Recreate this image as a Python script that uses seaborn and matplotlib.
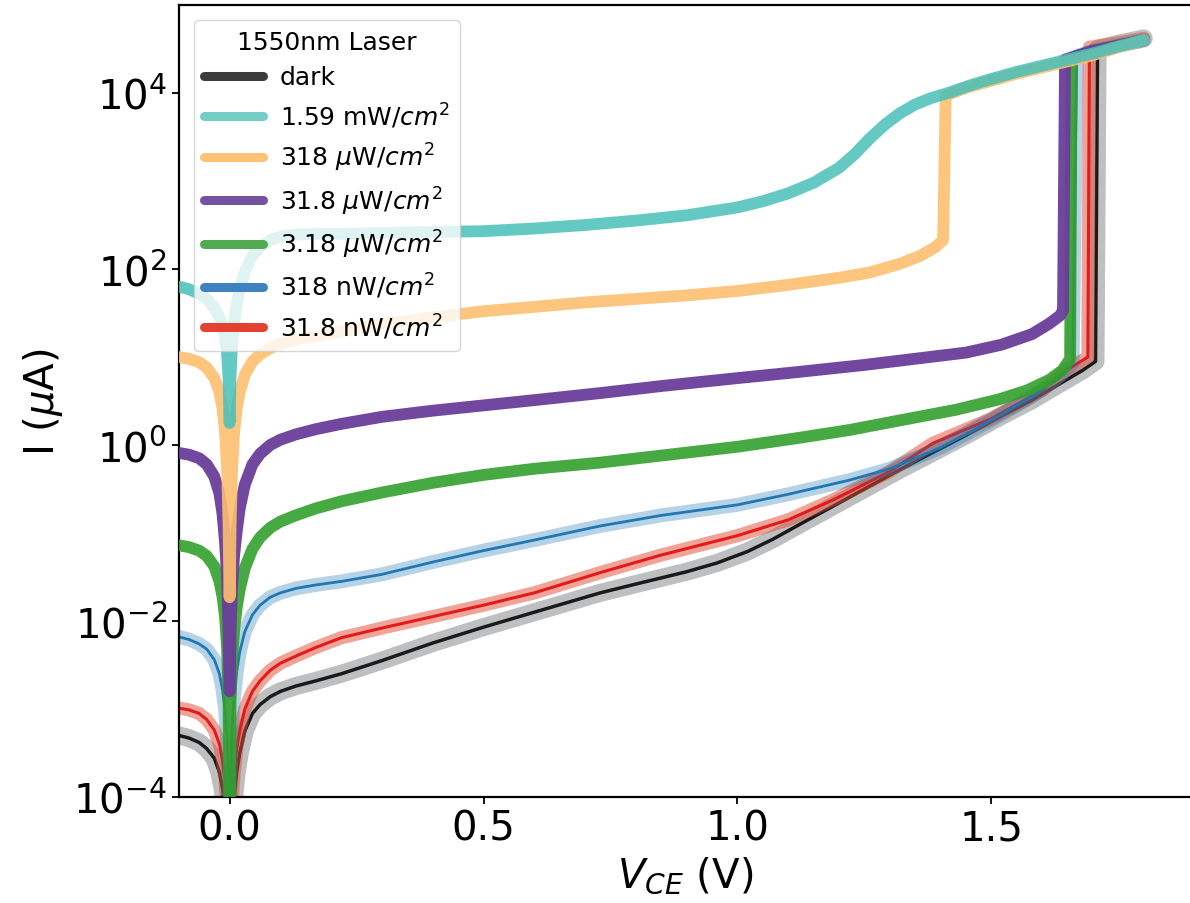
import numpy as np
import matplotlib
matplotlib.use("Agg")
import matplotlib.pyplot as plt
from matplotlib.lines import Line2D
from matplotlib.ticker import NullLocator, FixedLocator
import seaborn as sns

# ---------------- data (log10 of current in uA) ----------------
labels = ["dark", "1.59 mW/$cm^2$", "318 $\\mu$W/$cm^2$", "31.8 $\\mu$W/$cm^2$",
          "3.18 $\\mu$W/$cm^2$", "318 nW/$cm^2$", "31.8 nW/$cm^2$"]

V_dark = [-0.1, -0.08, -0.06, -0.045, -0.03, -0.02, -0.014, -0.009, -0.005, -0.002, 0.0, 0.002,
          0.005, 0.009, 0.014, 0.02, 0.03, 0.045, 0.06, 0.08, 0.1, 0.13, 0.17, 0.22, 0.3, 0.4, 0.5,
          0.6, 0.73, 0.8, 0.9, 0.96, 1.02, 1.07, 1.12, 1.19, 1.25, 1.32, 1.4, 1.45, 1.52, 1.58,
          1.63, 1.68, 1.705, 1.709, 1.75, 1.8]
logI_dark = [-3.3, -3.33, -3.38, -3.45, -3.56, -3.72, -3.9, -4.1, -4.4, -4.9, -5.5, -4.9,
             -4.35, -4.0, -3.72, -3.5, -3.25, -3.05, -2.95, -2.86, -2.8, -2.74, -2.68, -2.6, -2.45,
             -2.25, -2.07, -1.9, -1.68, -1.58, -1.44, -1.34, -1.21, -1.07, -0.91, -0.69, -0.5,
             -0.28, -0.04, 0.11, 0.33, 0.51, 0.68, 0.85, 0.95, 4.5, 4.56, 4.62]

V_cyan = [-0.1, -0.08, -0.06, -0.045, -0.03, -0.02, -0.014, -0.009, -0.005, -0.002, 0.0, 0.002,
          0.005, 0.009, 0.014, 0.02, 0.03, 0.045, 0.06, 0.08, 0.1, 0.13, 0.17, 0.22, 0.3, 0.4, 0.5,
          0.6, 0.7, 0.8, 0.9, 1.0, 1.05, 1.1, 1.15, 1.2, 1.23, 1.26, 1.29, 1.32, 1.35, 1.38, 1.42,
          1.46, 1.5, 1.55, 1.6, 1.65, 1.7, 1.75, 1.8]
logI_cyan = [1.8, 1.77, 1.72, 1.66, 1.56, 1.45, 1.35, 1.22, 1.05, 0.75, 0.25, 0.8,
             1.15, 1.4, 1.6, 1.77, 1.97, 2.15, 2.25, 2.33, 2.37, 2.39, 2.4, 2.4, 2.41, 2.42, 2.43,
             2.46, 2.5, 2.55, 2.61, 2.7, 2.77, 2.86, 2.98, 3.15, 3.3, 3.48, 3.64, 3.77, 3.87, 3.94,
             4.01, 4.09, 4.16, 4.24, 4.31, 4.38, 4.45, 4.53, 4.6]

V_orange = [-0.1, -0.08, -0.06, -0.045, -0.03, -0.02, -0.014, -0.009, -0.005, -0.002, 0.0, 0.002,
            0.005, 0.009, 0.014, 0.02, 0.03, 0.045, 0.06, 0.08, 0.1, 0.13, 0.17, 0.22, 0.3, 0.4,
            0.5, 0.6, 0.7, 0.8, 0.9, 1.0, 1.1, 1.2, 1.26, 1.32, 1.36, 1.39, 1.405, 1.41, 1.45, 1.5,
            1.55, 1.6, 1.65, 1.7, 1.75, 1.8]
logI_orange = [1.0, 0.98, 0.94, 0.88, 0.76, 0.6, 0.42, 0.15, -0.25, -0.9, -1.73, -0.9,
               -0.25, 0.15, 0.42, 0.6, 0.8, 0.95, 1.03, 1.1, 1.15, 1.2, 1.24, 1.29, 1.37, 1.45,
               1.52, 1.57, 1.62, 1.66, 1.7, 1.75, 1.82, 1.9, 1.96, 2.06, 2.15, 2.25, 2.33, 3.97,
               4.06, 4.14, 4.22, 4.29, 4.36, 4.43, 4.52, 4.6]

V_purple = [-0.1, -0.08, -0.06, -0.045, -0.03, -0.02, -0.014, -0.009, -0.005, -0.002, 0.0, 0.002,
            0.005, 0.009, 0.014, 0.02, 0.03, 0.045, 0.06, 0.08, 0.1, 0.13, 0.17, 0.22, 0.3, 0.4,
            0.5, 0.6, 0.73, 0.85, 1.0, 1.12, 1.25, 1.35, 1.45, 1.52, 1.58, 1.614, 1.635, 1.641,
            1.645, 1.7, 1.75, 1.8]
logI_purple = [-0.09, -0.11, -0.15, -0.22, -0.36, -0.55, -0.78, -1.1, -1.5, -2.1, -2.8, -2.1,
               -1.6, -1.25, -0.98, -0.72, -0.45, -0.22, -0.1, 0.0, 0.06, 0.12, 0.18, 0.24, 0.32,
               0.39, 0.45, 0.51, 0.59, 0.67, 0.76, 0.83, 0.91, 0.98, 1.05, 1.14, 1.26, 1.38, 1.47,
               1.53, 4.38, 4.48, 4.54, 4.6]

V_green = [-0.1, -0.08, -0.06, -0.045, -0.03, -0.02, -0.014, -0.009, -0.005, -0.002, 0.0, 0.002,
           0.005, 0.009, 0.014, 0.02, 0.03, 0.045, 0.06, 0.08, 0.1, 0.13, 0.17, 0.22, 0.3, 0.4,
           0.5, 0.6, 0.73, 0.85, 1.0, 1.12, 1.22, 1.32, 1.43, 1.516, 1.57, 1.614, 1.64, 1.655,
           1.658, 1.7, 1.75, 1.8]
logI_green = [-1.14, -1.16, -1.2, -1.26, -1.38, -1.55, -1.72, -1.95, -2.3, -2.9, -5.5, -2.9,
              -2.45, -2.1, -1.85, -1.64, -1.4, -1.18, -1.05, -0.94, -0.87, -0.8, -0.72, -0.64,
              -0.54, -0.43, -0.34, -0.27, -0.2, -0.12, -0.02, 0.08, 0.17, 0.28, 0.4, 0.52, 0.62,
              0.74, 0.85, 0.98, 4.4, 4.48, 4.54, 4.6]

V_blue = [-0.1, -0.08, -0.06, -0.045, -0.03, -0.02, -0.014, -0.009, -0.005, -0.002, 0.0, 0.002,
          0.005, 0.009, 0.014, 0.02, 0.03, 0.045, 0.06, 0.08, 0.1, 0.13, 0.17, 0.22, 0.3, 0.4, 0.5,
          0.6, 0.73, 0.85, 1.0, 1.1, 1.22, 1.3, 1.4, 1.5, 1.58, 1.63, 1.66, 1.668, 1.7, 1.75, 1.8]
logI_blue = [-2.18, -2.21, -2.26, -2.32, -2.44, -2.6, -2.78, -3.0, -3.35, -3.9, -5.5, -3.8,
             -3.2, -2.85, -2.58, -2.35, -2.12, -1.93, -1.82, -1.73, -1.68, -1.63, -1.59, -1.55,
             -1.47, -1.33, -1.2, -1.08, -0.92, -0.8, -0.68, -0.56, -0.40, -0.27, -0.03, 0.28, 0.55,
             0.75, 0.93, 4.42, 4.48, 4.54, 4.6]

V_red = [-0.1, -0.08, -0.06, -0.045, -0.03, -0.02, -0.014, -0.009, -0.005, -0.002, 0.0, 0.002,
         0.005, 0.009, 0.014, 0.02, 0.03, 0.045, 0.06, 0.08, 0.1, 0.13, 0.17, 0.22, 0.3, 0.4, 0.5,
         0.6, 0.73, 0.85, 1.0, 1.1, 1.19, 1.3, 1.385, 1.5, 1.6, 1.648, 1.69, 1.693, 1.75, 1.8]
logI_red = [-2.99, -3.01, -3.05, -3.12, -3.24, -3.4, -3.58, -3.8, -4.15, -4.7, -5.5, -4.6,
            -4.05, -3.72, -3.45, -3.25, -3.0, -2.8, -2.68, -2.56, -2.48, -2.4, -2.3, -2.19, -2.08,
            -1.95, -1.82, -1.68, -1.45, -1.25, -1.03, -0.85, -0.62, -0.3, 0.02, 0.3, 0.62, 0.85,
            1.0, 4.52, 4.57, 4.62]

legend_colors = ["#3b3b3b", "#74cdc7", "#fec274", "#7352a2", "#53aa53", "#3e82c0", "#e2422f"]

# ---------------- figure ----------------
sns.set_style("ticks")
plt.rcParams["font.family"] = ["DejaVu Sans"]
plt.rcParams["mathtext.fontset"] = "dejavusans"
for k in ["text.color", "axes.labelcolor", "xtick.color", "ytick.color", "axes.edgecolor"]:
    plt.rcParams[k] = "black"

fig = plt.figure(figsize=(11.9, 9.04), dpi=100)
L, R, B, T = 178.8, 1192.0, 798.0, 6.0
ax = fig.add_axes([L / 1190, (904 - B) / 904, (R - L) / 1190, (B - T) / 904])
ax.set_yscale("log")


def draw(V, logI, color, lw, alpha, z):
    sns.lineplot(x=np.array(V), y=10.0 ** np.array(logI), ax=ax, color=color, lw=lw,
                 alpha=alpha, estimator=None, sort=False, legend=False, zorder=z)


# dark: grey band + thin black line
draw(V_dark, logI_dark, "#5a5f66", 13, 0.4, 2.0)
draw(V_dark, logI_dark, "#1a1a1a", 2.5, 1.0, 2.1)
# red
draw(V_red, logI_red, "#e34a33", 9.5, 0.5, 2.2)
draw(V_red, logI_red, "#e31a1c", 2.2, 1.0, 2.3)
# blue
draw(V_blue, logI_blue, "#1f78b4", 10, 0.33, 2.4)
draw(V_blue, logI_blue, "#1f78b4", 2.0, 1.0, 2.5)
# green, purple, orange, cyan
draw(V_green, logI_green, "#33a02c", 8.5, 0.9, 2.6)
draw(V_purple, logI_purple, "#6a3d9a", 8.5, 0.95, 2.7)
draw(V_orange, logI_orange, "#fdbf6f", 8.5, 0.9, 2.8)
draw(V_cyan, logI_cyan, "#48c0b8", 8.5, 0.85, 2.9)

ax.set_xlim(-0.1, 1.895)
ax.set_ylim(1e-4, 1e5)
ax.xaxis.set_major_locator(FixedLocator([0.0, 0.5, 1.0, 1.5]))
ax.set_xticklabels(["0.0", "0.5", "1.0", "1.5"])
ax.yaxis.set_major_locator(FixedLocator([1e-4, 1e-2, 1e0, 1e2, 1e4]))
ax.yaxis.set_minor_locator(NullLocator())
ax.tick_params(axis="both", labelsize=29, length=5, width=1.3, color="black",
               labelcolor="black")
for s in ax.spines.values():
    s.set_linewidth(1.6)
    s.set_color("black")

ax.set_xlabel("$V_{CE}$ (V)", fontsize=29, labelpad=4, color="black")
ax.set_ylabel("I ($\\mu$A)", fontsize=29, labelpad=6, color="black")

handles = [Line2D([0], [0], color=c, lw=6.5) for c in legend_colors]
leg = ax.legend(handles, labels, title="1550nm Laser", loc="upper left", fontsize=18,
                title_fontsize=18, handlelength=2.35, handletextpad=0.7, borderpad=0.4,
                labelspacing=0.45, borderaxespad=0.6)

fig.savefig("out.png", dpi=100)
